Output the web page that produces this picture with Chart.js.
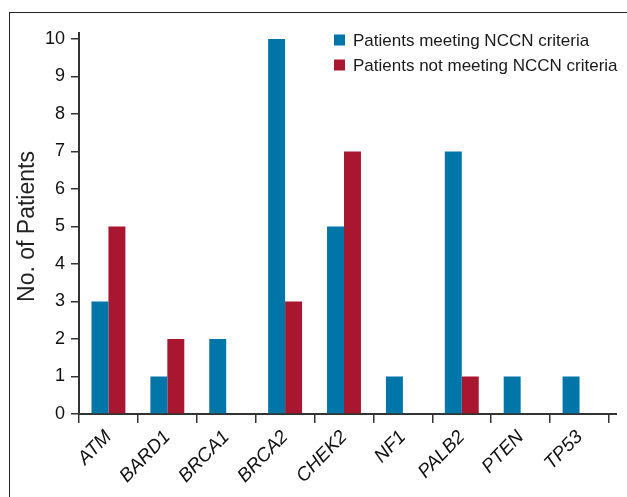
<!DOCTYPE html>
<html>
<head>
<meta charset="utf-8">
<script src="https://cdn.jsdelivr.net/npm/chart.js"></script>
<style>
  html, body { margin: 0; padding: 0; background: #fff; overflow: hidden; }
  #wrap { position: relative; width: 627px; height: 497px; }
  #frame { position: absolute; left: 9px; top: 12px; width: 700px; height: 600px;
           border-left: 1.5px solid #222; border-top: 1.5px solid #222; }
  #chart { position: absolute; left: 0; top: 0; }
</style>
</head>
<body>
<div id="wrap">
  <div id="frame"></div>
  <canvas id="chart" width="627" height="497"></canvas>
</div>
<script>
  var genes = ['ATM', 'BARD1', 'BRCA1', 'BRCA2', 'CHEK2', 'NF1', 'PALB2', 'PTEN', 'TP53'];
  var meeting = [3, 1, 2, 10, 5, 1, 7, 1, 1];
  var notMeeting = [5, 2, 0, 3, 7, 0, 1, 0, 0];
  var yTicks = [0, 1, 2, 3, 4, 5, 6, 7, 8, 9, 10];

  var BLUE = '#0075a8';
  var RED = '#a8172f';
  var AXIS = '#333';

  // draws the legend inside the plot and the small axis overhangs
  var extras = {
    id: 'extras',
    afterDraw: function(chart) {
      var c = chart.ctx;
      var a = chart.chartArea;
      c.save();
      c.strokeStyle = AXIS;
      c.lineWidth = 2;
      c.beginPath();
      c.moveTo(a.left, a.top);
      c.lineTo(a.left, a.top - 7);
      c.moveTo(a.right, a.bottom);
      c.lineTo(a.right + 8, a.bottom);
      c.stroke();

      c.font = '17px "Liberation Sans", Arial, sans-serif';
      c.textBaseline = 'middle';
      c.textAlign = 'left';
      chart.data.datasets.forEach(function(ds, i) {
        var y = 40 + i * 25;
        c.fillStyle = ds.backgroundColor;
        c.fillRect(334, y - 5.5, 11, 11);
        c.fillStyle = '#1a1a1a';
        c.fillText(ds.label, 353, y + 1);
      });
      c.restore();
    }
  };

  new Chart(document.getElementById('chart'), {
    type: 'bar',
    data: {
      labels: genes,
      datasets: [
        { label: 'Patients meeting NCCN criteria', data: meeting, backgroundColor: BLUE, borderWidth: 0 },
        { label: 'Patients not meeting NCCN criteria', data: notMeeting, backgroundColor: RED, borderWidth: 0 }
      ]
    },
    options: {
      responsive: false,
      animation: false,
      categoryPercentage: 0.576,
      barPercentage: 1,
      layout: { padding: { left: 0, top: 39, right: 18, bottom: 0 } },
      plugins: {
        legend: { display: false },
        tooltip: { enabled: false }
      },
      scales: {
        x: {
          grid: { display: true, drawOnChartArea: false, drawTicks: true, tickLength: 9, color: AXIS, lineWidth: 1.5, offset: true },
          border: { display: true, color: AXIS, width: 2 },
          ticks: {
            color: '#111',
            font: { family: '"Liberation Sans", Arial, sans-serif', size: 19, style: 'italic' },
            minRotation: 46, maxRotation: 46, padding: 3, autoSkip: false
          },
          afterFit: function(scale) { scale.height = 83; }
        },
        y: {
          min: 0, max: 10,
          afterBuildTicks: function(scale) { scale.ticks = yTicks.map(function(v) { return { value: v }; }); },
          grid: { display: true, drawOnChartArea: false, drawTicks: true, tickLength: 8, color: AXIS, lineWidth: 1.5 },
          border: { display: true, color: AXIS, width: 2 },
          ticks: {
            color: '#111',
            font: { family: '"Liberation Sans", Arial, sans-serif', size: 18 },
            padding: 6
          },
          title: {
            display: true,
            text: 'No. of Patients',
            color: '#222',
            font: { family: '"Liberation Sans", Arial, sans-serif', size: 23 },
            padding: { top: 14, bottom: 0 }
          },
          afterFit: function(scale) { scale.width = 79; }
        }
      }
    },
    plugins: [extras]
  });
</script>
</body>
</html>
